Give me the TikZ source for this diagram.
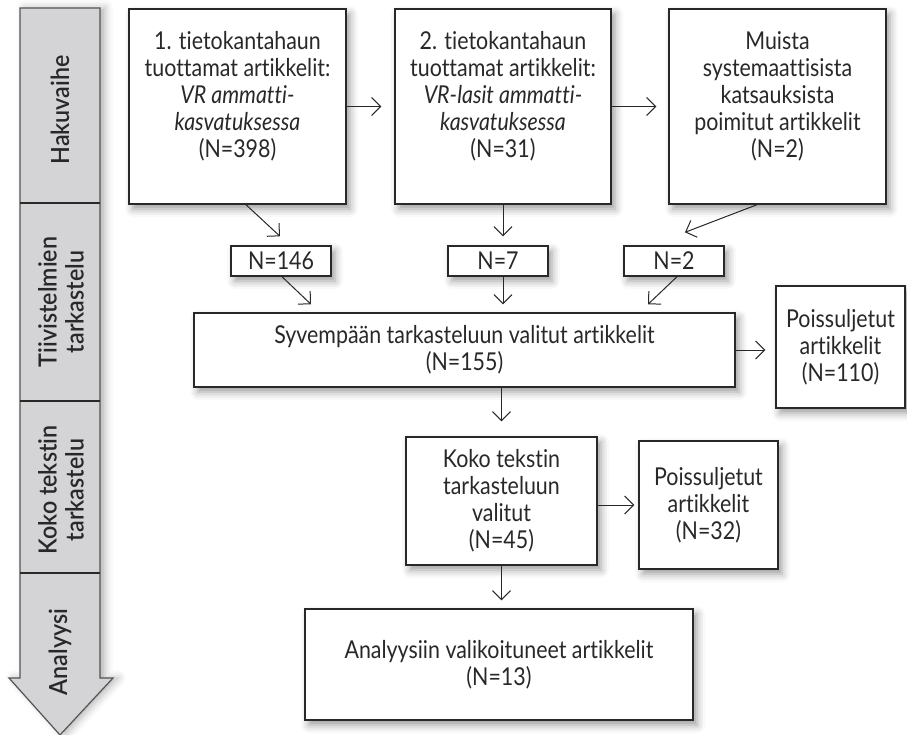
\documentclass[tikz,border=0pt]{standalone}
\usepackage{fontspec}
\setmainfont{Lato}[FakeStretch=0.87, Ligatures=NoCommon]
\newfontfamily\phasefont{Lato}[UprightFont=* Semibold, FakeStretch=0.93, Ligatures=NoCommon]
\usetikzlibrary{arrows.meta,calc,shadows.blur}
\definecolor{phasegray}{RGB}{212,212,214}
\definecolor{inkgray}{RGB}{40,40,40}
% lift the text of the tall search boxes a little towards their top
\newcommand{\liftedtext}[1]{\raisebox{4.3pt}[\height][\depth]{\begin{tabular}{@{}c@{}}#1\end{tabular}}}

\begin{document}
\begin{tikzpicture}[x=0.5pt,y=-0.5pt]
\tikzstyle{every node}=[font=\fontsize{12.3}{13.5}\selectfont, text=inkgray]
\tikzstyle{stagebox}=[draw=inkgray, line width=0.7pt, fill=white, align=center, inner sep=0pt,
  blur shadow={shadow xshift=2pt, shadow yshift=-2.5pt, shadow blur radius=4pt, shadow opacity=40}]
\tikzstyle{numbox}=[stagebox, minimum width=50pt, minimum height=15pt]
\tikzstyle{flow}=[draw=inkgray, line width=0.5pt, -{Straight Barb[length=4.5pt,width=9pt]}]
\useasboundingbox (0,0) rectangle (907,735);

% Draw the phase arrow on the left
\draw[draw=inkgray!80, line width=0.6pt, fill=phasegray,
  blur shadow={shadow xshift=2.5pt, shadow yshift=0pt, shadow blur radius=4pt, shadow opacity=30}]
  (20,8) -- (100,8) -- (100,678) -- (113,678) -- (60,735) -- (9,678) -- (20,678) -- cycle;
\draw[inkgray, line width=0.6pt] (20,203) -- (100,203);
\draw[inkgray, line width=0.6pt] (20,401) -- (100,401);
\draw[inkgray, line width=0.6pt] (20,573) -- (100,573);
\node[rotate=90, font=\phasefont\fontsize{12.5}{13.5}\selectfont] (haku) at (60,110) {Hakuvaihe};
\node[rotate=90, align=center, font=\phasefont\fontsize{12.5}{13.5}\selectfont] (tiiv) at (61,302) {Tiivistelmien\\tarkastelu};
\node[rotate=90, align=center, font=\phasefont\fontsize{12.5}{13.5}\selectfont] (koko) at (61,490) {Koko tekstin\\tarkastelu};
\node[rotate=90, font=\phasefont\fontsize{12.5}{13.5}\selectfont] (anal) at (60,652) {Analyysi};

% Draw the search boxes
\node[stagebox, minimum width=108.5pt, minimum height=97.5pt] (haku1) at (237.5,106.5)
  {\liftedtext{1. tietokantahaun\\tuottamat artikkelit:\\\textit{VR ammatti-}\\\textit{kasvatuksessa}\\(N=398)}};
\node[stagebox, minimum width=108pt, minimum height=97.5pt] (haku2) at (503,106.5)
  {\liftedtext{2. tietokantahaun\\tuottamat artikkelit:\\\textit{VR-lasit ammatti-}\\\textit{kasvatuksessa}\\(N=31)}};
\node[stagebox, minimum width=108.5pt, minimum height=97.5pt] (muut) at (777.5,106.5)
  {\liftedtext{Muista\\systemaattisista\\katsauksista\\poimitut artikkelit\\(N=2)}};

% Draw the abstract screening counts
\node[numbox] (n146) at (281,261) {N=146};
\node[numbox] (n7) at (498,261) {N=7};
\node[numbox] (n2) at (674,261) {N=2};

% Draw the selected and excluded boxes
\node[stagebox, minimum width=270.5pt, minimum height=37pt] (syv) at (464.5,350)
  {Syvempään tarkasteluun valitut artikkelit\\(N=155)};
\node[stagebox, minimum width=64.5pt, minimum height=61pt] (pois110) at (840.5,347)
  {Poissuljetut\\artikkelit\\(N=110)};
\node[stagebox, minimum width=95.5pt, minimum height=64pt] (kokoteksti) at (501.5,501)
  {Koko tekstin\\tarkasteluun\\valitut\\(N=45)};
\node[stagebox, minimum width=69.5pt, minimum height=64pt] (pois32) at (708.5,505)
  {Poissuljetut\\artikkelit\\(N=32)};
\node[stagebox, minimum width=194pt, minimum height=55.5pt] (analyysi) at (499,664.5)
  {Analyysiin valikoituneet artikkelit\\(N=13)};

% Draw the connections between the search boxes
\draw[flow, shorten >=6.5pt] (haku1.east) -- (haku2.west);
\draw[flow, shorten >=6pt] (haku2.east) -- (muut.west);

% Draw the connections to and from the counts
\draw[flow] ($(haku1.south)+(8.5,0)$) -- ($(n146.north)+(-1,-9)$);
\draw[flow] ($(n146.south)+(1,0)$) -- ($(syv.north)+(-153.5,-8)$);
\draw[flow, shorten >=4.5pt] (haku2.south) -- (haku2.south |- n7.north);
\draw[flow, shorten >=4pt] (haku2.south |- n7.south) -- (haku2.south |- syv.north);
\draw[flow] ($(muut.south)+(-20.5,0)$) -- ($(n2.north)+(11,-13)$);
\draw[flow] ($(n2.south)+(3,0)$) -- ($(syv.north)+(183.5,-8)$);

% Draw the connections below the selected articles
\draw[flow, shorten >=5pt] (syv.east) -- (syv.east -| pois110.west);
\draw[flow, shorten >=7.5pt] (kokoteksti.north |- syv.south) -- (kokoteksti.north);
\draw[flow, shorten >=2pt] (kokoteksti.east |- pois32.west) -- (pois32.west);
\draw[flow, shorten >=4pt] (kokoteksti.south) -- (kokoteksti.south |- analyysi.north);

\end{tikzpicture}
\end{document}
